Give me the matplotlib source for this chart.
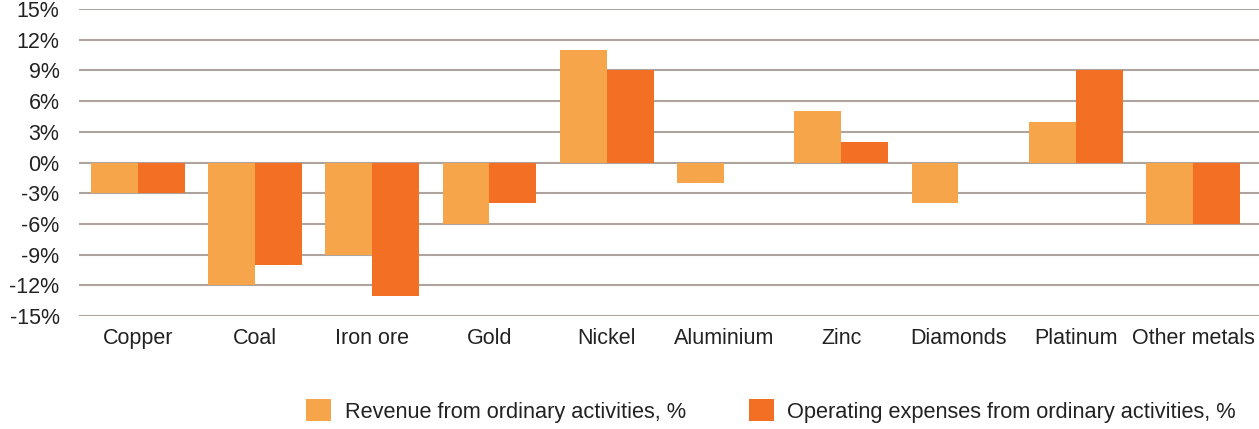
import matplotlib
matplotlib.use("Agg")
import matplotlib.pyplot as plt
import numpy as np

categories = ["Copper", "Coal", "Iron ore", "Gold", "Nickel", "Aluminium",
              "Zinc", "Diamonds", "Platinum", "Other metals"]
revenue = [-3, -12, -9, -6, 11, -2, 5, -4, 4, -6]
opex = [-3, -10, -13, -4, 9, 0, 2, 0, 9, -6]
yticks = [-15, -12, -9, -6, -3, 0, 3, 6, 9, 12, 15]
series_names = ["Revenue from ordinary activities, %",
                "Operating expenses from ordinary activities, %"]

plt.rcParams['font.family'] = ['Liberation Sans', 'DejaVu Sans']

fig = plt.figure(figsize=(12.59, 4.29), dpi=100)
ax = fig.add_axes([79/1259, 1 - 316/429, 1180/1259, 307/429])

x = np.arange(len(categories))
w = 0.4
c1 = "#F7A54A"
c2 = "#F26F23"
ax.bar(x - w/2, revenue, w, color=c1, zorder=3, label=series_names[0])
ax.bar(x + w/2, opex, w, color=c2, zorder=3, label=series_names[1])

ax.set_xlim(-0.5, len(categories) - 0.5 + 0.063)
ax.set_ylim(-15, 15)
ax.set_yticks(yticks)
ax.set_yticklabels([f"{v}%" for v in yticks])
ax.set_xticks(x)
ax.set_xticklabels(categories)
ax.yaxis.grid(True, color="#ADA4A0", linewidth=1.5, zorder=0)
ax.set_axisbelow(True)
for s in ax.spines.values():
    s.set_visible(False)
ax.tick_params(axis="both", length=0, colors="#222222")
ax.tick_params(axis="x", pad=8.5, labelsize=15.5)
ax.tick_params(axis="y", pad=14, labelsize=15.5)

fig.legend(loc="center", bbox_to_anchor=(771/1259, 1 - 411/429), ncol=2,
           frameon=False, fontsize=15.7, handlelength=1.15, handleheight=1.15,
           columnspacing=2.9, handletextpad=0.6, labelcolor="#222222")

fig.savefig("out.png", dpi=100)
